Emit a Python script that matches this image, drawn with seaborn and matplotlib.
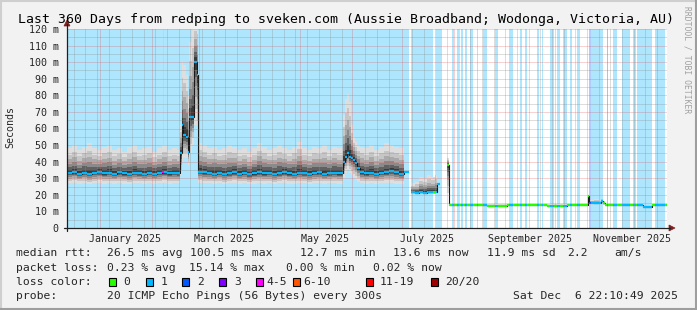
import numpy as np
import pandas as pd
import matplotlib
matplotlib.use("Agg")
import matplotlib.pyplot as plt
import seaborn as sns
from matplotlib.patches import Rectangle, Polygon
from matplotlib.lines import Line2D

sns.set_style("white")
plt.rcParams['font.family'] = ['DejaVu Sans Mono', 'DejaVu Sans']

START = pd.Timestamp('2024-12-11 22:10:49')
END = pd.Timestamp('2025-12-06 22:10:49')

# ---------------- data (days since START) ----------------
med_days = [0, 3, 6, 9, 12, 15, 18, 21, 24, 27, 30, 33, 36, 39, 42, 45, 48, 51, 54, 57, 60, 63, 66,
            67.8, 68.8, 69.8, 71.2, 72.4, 73.4, 75.2, 76.4, 77.8,
            78.4, 81, 84, 87, 90, 93, 96, 99, 102, 105, 108, 111, 114, 117, 120, 123, 126, 129, 132,
            135, 138, 141, 144, 147, 150, 153, 156, 159, 162,
            165.6, 166.8, 168, 169.2, 170.4, 171.6, 173, 174.2,
            175.8, 178, 181, 184, 187, 190, 193, 196, 199, 202, 205.2,
            206.4, 208.8, 211.2, 213.6, 216, 218.4, 220.8, 222.0, 223.8,
            227.8, 229.0, 240, 252, 264, 276, 288, 300,
            312.6, 313.2, 316, 319, 320.4, 321.6, 322.8, 333, 345.6, 351, 360]
med_ms = [33.2, 33.6, 32.8, 33.4, 32.6, 33.2, 33.8, 32.9, 33.3, 32.7, 33.5, 33.0, 32.6, 33.4, 33.1, 32.8, 33.3, 32.7, 33.2, 33.6, 32.9, 33.2, 33.0,
          45, 62, 56, 55, 46, 67, 67, 100, 92,
          34, 33.5, 33.2, 32.8, 33.4, 32.5, 33.0, 33.6, 32.8, 33.2, 32.4, 33.0, 33.5, 32.9, 33.3, 32.6, 33.1, 33.6, 33.0,
          32.7, 33.4, 33.0, 32.6, 33.2, 33.5, 32.8, 33.1, 33.4, 32.9,
          40, 43, 45.5, 43, 42, 41, 39, 36,
          33.5, 33.0, 33.4, 32.8, 33.2, 33.6, 34.5, 33.5, 32.8, 33.5, np.nan,
          21.5, 21.0, 21.5, 21.3, 21.5, 21.6, 21.8, 26.5, np.nan,
          38, 13.6, 13.6, 13.5, 13.6, 13.7, 13.5, 13.6,
          19.5, 15.0, 15.0, 14.8, 16.3, 14.8, 13.6, 13.6, 12.6, 13.6, 13.6]
lo_ms = [27, 27, 26.5, 27, 26.5, 27, 27, 26.5, 27, 26.5, 27, 26.5, 26.5, 27, 27, 26.5, 27, 26.5, 27, 27, 26.5, 27, 27,
         32, 40, 42, 42, 38, 45, 50, 62, 55,
         27, 27, 27, 26.5, 27, 26.5, 27, 27, 26.5, 27, 26.5, 26.5, 27, 26.5, 27, 26.5, 27, 27, 26.5,
         26.5, 27, 27, 26.5, 27, 27, 26.5, 27, 27, 26.5,
         30, 33, 35, 33, 32, 30, 29, 28,
         27, 26.5, 27, 26.5, 27, 27, 27, 26.5, 26.5, 27, np.nan,
         20.5, 20.3, 20.5, 20.5, 20.5, 20.5, 20.6, 22, np.nan,
         21, 13.1, 13.1, 13.0, 13.1, 13.2, 13.0, 13.1,
         14.5, 14.0, 14.2, 14.0, 14.5, 14.0, 13.1, 13.1, 12.2, 13.1, 13.1]
hi_ms = [48, 50, 47, 49, 51, 48, 47, 49, 50, 47, 48, 46, 49, 50, 47, 48, 49, 46, 48, 50, 47, 48, 47,
         62, 100, 98, 92, 80, 112, 122, 125, 125,
         51, 50, 48, 49, 47, 48, 50, 49, 47, 48, 46, 48, 51, 49, 47, 48, 50, 48, 47,
         49, 52, 48, 47, 49, 48, 50, 47, 49, 48,
         68, 78, 81, 76, 62, 55, 52, 50,
         49, 48, 50, 47, 49, 51, 50, 49, 48, 50, np.nan,
         27, 28, 31, 30, 32, 31, 32, 44, np.nan,
         42, 14.3, 14.5, 14.2, 14.4, 14.6, 14.3, 14.4,
         20, 17, 17.5, 16.5, 17.5, 16, 14.5, 14.3, 13.2, 14.3, 14.3]

# packet-loss background intervals (days since START) and loss class index
loss_start = [0, 57.3, 206.4, 221.4, 230.8, 233.8, 236.2, 238.8, 241.8, 245.8, 249.8, 256.8, 265.4,
              271.8, 274.8, 281.8, 284.8, 289.8, 293.8, 297.8, 301.8, 305.8, 313.4, 314.2, 323.8,
              327.8, 332.8, 339.8, 342.2, 352.8]
loss_end = [205.2, 58.2, 219.6, 225, 232.2, 235, 237.4, 239.8, 243.4, 246.8, 251.8, 258.8, 267.8,
            272.8, 275.8, 283.4, 285.8, 292.2, 295.8, 299.8, 302.8, 307.8, 314.2, 321.8, 324.8,
            329.8, 337.8, 341.4, 350.8, 358.8]
loss_class = [1, 4, 1, 1, 1, 1, 1, 1, 1, 1, 1, 1, 1,
              1, 1, 1, 1, 1, 1, 1, 1, 1, 2, 1, 1,
              1, 1, 1, 1, 1]

loss_labels = ['0', '1', '2', '3', '4-5', '6-10', '11-19', '20/20']
loss_colors = ['#26ff00', '#00b8ff', '#0059ff', '#7e00ff', '#ff00ff', '#ff5500', '#ff0000', '#a10000']
loss_bg = ['#ffffff', '#aee6fd', '#b0cbff', '#d0b0ff', '#ffb0ff', '#ffccb0', '#ffb0b0', '#e0b0b0']

yticks = list(range(0, 121, 10))
ytick_labels = ['0'] + [f'{v} m' for v in yticks[1:]]
label_months = ['2025-01-01', '2025-03-01', '2025-05-01', '2025-07-01', '2025-09-01', '2025-11-01']

title = 'Last 360 Days from redping to sveken.com (Aussie Broadband; Wodonga, Victoria, AU)'

# ---------------- figure ----------------
W, H = 697, 310
fig = plt.figure(figsize=(W / 100, H / 100), dpi=100, facecolor='#f2f2f2')
L, R, T, B = 67, 667, 29, 228
ax = fig.add_axes([L / W, 1 - B / H, (R - L) / W, (B - T) / H])
ax.set_xlim(0, 360)
ax.set_ylim(0, 120)
ax.set_facecolor('white')
for s in ax.spines.values():
    s.set_visible(False)

def dayof(ts):
    return (pd.Timestamp(ts) - START) / pd.Timedelta(days=1)

# background loss bars
for s, e, c in zip(loss_start, loss_end, loss_class):
    ax.axvspan(s, e, color=loss_bg[c], lw=0, zorder=0)

# smoke
df = pd.DataFrame({'t': med_days, 'med': med_ms, 'lo': lo_ms, 'hi': hi_ms})
fracs = [1.0, 0.75, 0.55, 0.38, 0.24, 0.12]
shades = ['#dedede', '#c6c6c6', '#aaaaaa', '#8a8a8a', '#616161', '#3a3a3a']
for f, c in zip(fracs, shades):
    up = df['med'] + f * (df['hi'] - df['med'])
    dn = df['med'] - f * (df['med'] - df['lo'])
    ax.fill_between(df['t'], dn, up, step='post', color=c, lw=0, zorder=2)

# median: black step line (by segment) + loss coloured dashes per pixel
df['seg'] = df['med'].isna().cumsum()
dfl = df.dropna()
sns.lineplot(data=dfl, x='t', y='med', units='seg', estimator=None, drawstyle='steps-post',
             color='#1a1a1a', lw=0.8, ax=ax, zorder=3, legend=False)
ax.set_xlabel('')
ax.set_ylabel('')

tt = np.arange(0, 360, 0.6) + 0.3
mdays = np.array(med_days)
mvals = np.array(med_ms)
idx = np.clip(np.searchsorted(mdays, tt, side='right') - 1, 0, len(mdays) - 1)
mpix = mvals[idx]
cls = np.zeros(len(tt), dtype=int)
for s, e, c in zip(loss_start, loss_end, loss_class):
    m = (tt >= s) & (tt < e)
    cls[m] = c
for k in range(len(loss_colors)):
    m = (cls == k) & ~np.isnan(mpix)
    if m.any():
        ax.hlines(mpix[m], tt[m] - 0.31, tt[m] + 0.31, colors=loss_colors[k], lw=1.6, zorder=4)

# grid
gcol = (0.56, 0.56, 0.56, 0.6)
mcol = (0.87, 0.31, 0.31, 0.5)
dash = (0, (1, 1))
for v in range(5, 120, 10):
    ax.axhline(v, color=gcol, lw=0.72, ls=dash, zorder=5)
for v in range(10, 121, 10):
    ax.axhline(v, color=mcol, lw=0.72, ls=dash, zorder=5)
months = pd.date_range('2025-01-01', '2025-12-01', freq='MS')
mdl = [dayof(m) for m in months]
weeks = pd.date_range(START.normalize(), END, freq='W-MON')
for w in weeks:
    d = dayof(w)
    if 0 < d < 360 and min(abs(d - x) for x in mdl) > 1.5:
        ax.axvline(d, color=gcol, lw=0.72, ls=dash, zorder=5)
for d in mdl:
    ax.axvline(d, color=mcol, lw=0.72, ls=dash, zorder=5)

# ticks
ax.set_yticks(yticks)
ax.set_yticklabels(ytick_labels)
ax.set_xticks(mdl)
ax.set_xticklabels([])
lab_pos = [dayof(pd.Timestamp(m)) + 15 for m in label_months]
ax.set_xticks(lab_pos, minor=True)
ax.set_xticklabels([pd.Timestamp(m).strftime('%B %Y') for m in label_months], minor=True)
ax.tick_params(axis='y', length=2, width=0.72, pad=4, labelsize=7.2, color='#1f1f1f')
ax.tick_params(axis='x', which='major', length=2, width=0.72, color='#1f1f1f', direction='inout')
ax.tick_params(axis='x', which='minor', length=0, pad=4, labelsize=7.2)

# axes lines + arrows (figure pixels)
def P(x, y):
    return (x / W, 1 - y / H)

axis_c = (0.12, 0.12, 0.12)
arrow_c = (0.5, 0.12, 0.12)
fig.add_artist(Line2D([P(64, B)[0], P(670, B)[0]], [P(0, B)[1]] * 2, color=axis_c, lw=0.9))
fig.add_artist(Line2D([P(L, 0)[0]] * 2, [P(0, 231)[1], P(0, 24)[1]], color=axis_c, lw=0.9))
fig.add_artist(Polygon([P(669, 225), P(675, 228), P(669, 231)], closed=True, transform=fig.transFigure,
                       fc=arrow_c, ec=arrow_c, lw=0.5))
fig.add_artist(Polygon([P(64, 26), P(67, 20), P(70, 26)], closed=True, transform=fig.transFigure,
                       fc=arrow_c, ec=arrow_c, lw=0.5))

# frame
fig.add_artist(Line2D([0, 1], [P(0, 0.5)[1]] * 2, color='#cfcfcf', lw=1.5))
fig.add_artist(Line2D([P(0.5, 0)[0]] * 2, [0, 1], color='#cfcfcf', lw=1.5))
fig.add_artist(Line2D([0, 1], [P(0, 309.3)[1]] * 2, color='#9e9e9e', lw=1.5))
fig.add_artist(Line2D([P(696.3, 0)[0]] * 2, [0, 1], color='#9e9e9e', lw=1.5))

# texts
fig.text(*P(346.5, 19), title, ha='center', va='center', fontsize=9.5, color='black')
fig.text(*P(10, 127), 'Seconds', ha='center', va='center', rotation=90, fontsize=7.2)
fig.text(*P(686.5, 60), 'RRDTOOL / TOBI OETIKER', ha='center', va='center', rotation=270,
         fontsize=5.8, color='#a0a0a0')

fs = 8.2
row1 = [(16, 'median rtt:'), (107, '26.5 ms avg'), (190, '100.5 ms max'), (300, '12.7 ms min'),
        (393, '13.6 ms now'), (487, '11.9 ms sd'), (567, '2.2'), (614, 'am/s')]
row2 = [(16, 'packet loss:'), (107, '0.23 % avg'), (189, '15.14 % max'), (286, '0.00 % min'),
        (373, '0.02 % now')]
row4 = [(16, 'probe:'), (107, '20 ICMP Echo Pings (56 Bytes) every 300s'), (513, 'Sat Dec  6 22:10:49 2025')]
for y, row in [(253.3, row1), (268.3, row2), (296, row4)]:
    for x, s in row:
        fig.text(*P(x, y), s, ha='left', va='center', fontsize=fs)
fig.text(*P(16, 281.7), 'loss color:', ha='left', va='center', fontsize=fs)
box_x = [109, 146, 182, 218.5, 255.5, 292.5, 365.5, 431]
lab_x = [123, 160.5, 197, 234, 266.5, 303, 380, 445]
for bx, lx, c, s in zip(box_x, lab_x, loss_colors, loss_labels):
    fig.add_artist(Rectangle(P(bx, 285.5), 7 / W, 8 / H, transform=fig.transFigure, fc=c, ec='black', lw=0.8))
    fig.text(*P(lx, 281.7), s, ha='left', va='center', fontsize=fs)

fig.savefig('out.png', dpi=100, facecolor=fig.get_facecolor())
